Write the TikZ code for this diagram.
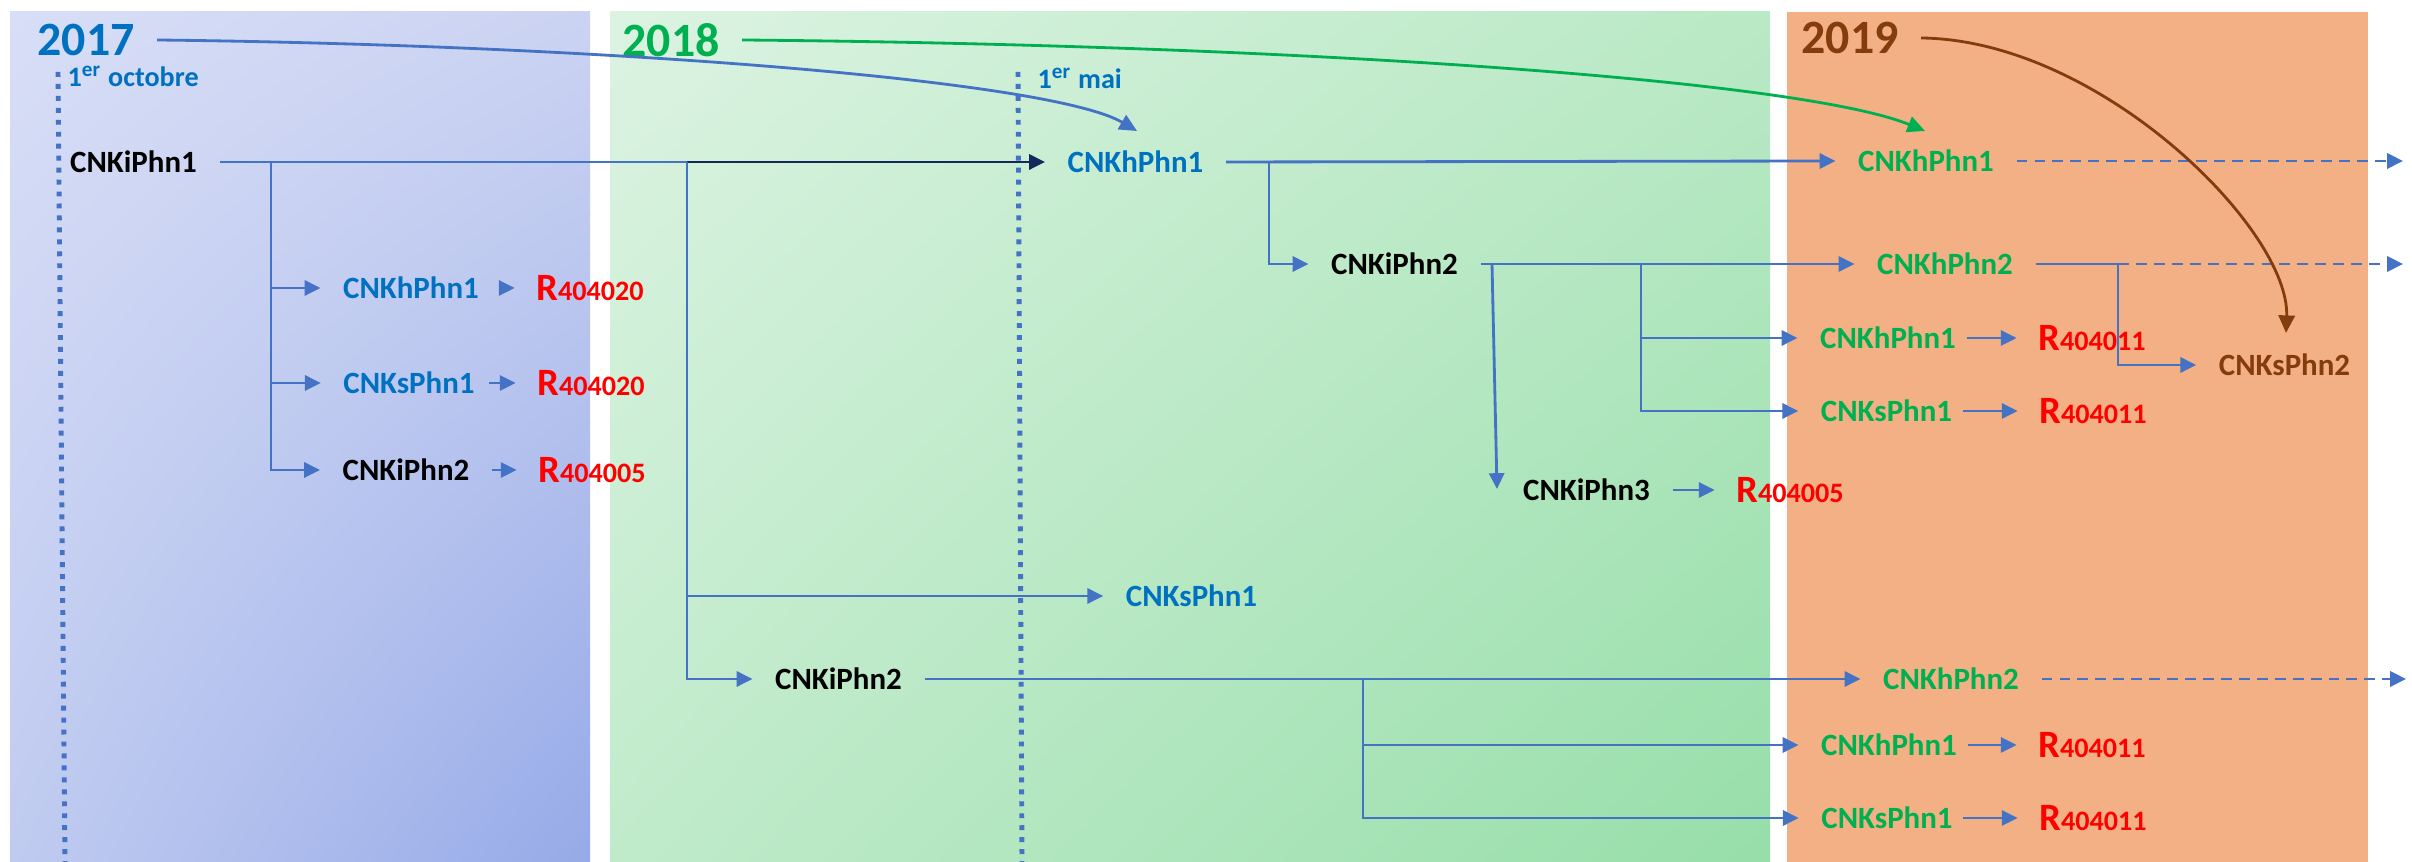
\documentclass[tikz,border=0pt]{standalone}
\usepackage{fontspec}
\setmainfont{Carlito}
\usetikzlibrary{arrows.meta,shadings}
\definecolor{tblue}{HTML}{0070C0}
\definecolor{lblue}{HTML}{4472C4}
\definecolor{navy}{HTML}{14285A}
\definecolor{tgreen}{HTML}{00B050}
\definecolor{tbrown}{HTML}{843C0C}
\definecolor{tred}{HTML}{FF0000}
\definecolor{pOrange}{HTML}{F3B084}
\definecolor{bUL}{RGB}{216,222,246}
\definecolor{bUR}{RGB}{203,211,242}
\definecolor{bLL}{RGB}{192,203,240}
\definecolor{bLR}{RGB}{150,170,232}
\definecolor{gUL}{RGB}{220,243,226}
\definecolor{gUR}{RGB}{185,233,197}
\definecolor{gLL}{RGB}{192,235,203}
\definecolor{gLR}{RGB}{151,222,169}
\newcommand{\Rcode}[1]{{\fontsize{11}{12}\selectfont R}{\fontsize{8}{10}\selectfont #1}}
\begin{document}
\begin{tikzpicture}[x=0.01cm,y=-0.01cm,
  lbl/.style={font=\fontsize{8.8}{10}\selectfont\bfseries, inner xsep=0.22cm, inner ysep=0pt},
  rlbl/.style={font=\bfseries, text=tred, inner xsep=0.21cm, inner ysep=0pt},
  year/.style={font=\fontsize{13.6}{15}\selectfont\bfseries, inner xsep=0.22cm, inner ysep=0pt},
  datelbl/.style={font=\fontsize{8}{9}\selectfont\bfseries, text=tblue, inner sep=0pt, anchor=west},
  conn/.style={draw=lblue, line width=0.8pt},
  arr/.style={conn, -{Triangle[length=4.5pt,width=4.3pt]}},
  dashln/.style={arr, dash pattern=on 3.1pt off 2pt},
  dotln/.style={draw=lblue, line width=1.4pt, dash pattern=on 1.4pt off 2pt},
  curv/.style={line width=0.8pt, -{Triangle[length=5pt,width=4.6pt]}}
]
\useasboundingbox (0,0) rectangle (2412,862);
\fill[white] (0,0) rectangle (2412,862);
% panels
\shade[upper left=bUL, upper right=bUR, lower left=bLL, lower right=bLR] (10,12) rectangle (590,862);
\shade[upper left=gUL, upper right=gUR, lower left=gLL, lower right=gLR] (610,12) rectangle (1770,862);
\fill[pOrange] (1787,12) rectangle (2368,862);

% date markers
\node[datelbl] (oct) at (67,76) {1\textsuperscript{er} octobre};
\node[datelbl] (mai) at (1037,78) {1\textsuperscript{er} mai};
\coordinate (od1) at (58,72);  \coordinate (od2) at (65,862);
\coordinate (md1) at (1018,72); \coordinate (md2) at (1022,862);
\draw[dotln] (od1) -- (od2);
\draw[dotln] (md1) -- (md2);

% years
\node[year, text=tblue] (y17) at (86,40) {2017};
\node[year, text=tgreen] (y18) at (671,40) {2018};
\node[year, text=tbrown] (y19) at (1850,38) {2019};

% 2017 column
\node[lbl] (n1) at (133.5,162) {CNKiPhn1};
\node[lbl, text=tblue] (a1) at (411,288) {CNKhPhn1};
\node[lbl, text=tblue] (a2) at (409,383) {CNKsPhn1};
\node[lbl] (a3) at (406,470) {CNKiPhn2};
\node[rlbl] (r1) at (590,288) {\Rcode{404020}};
\node[rlbl] (r2) at (591,383) {\Rcode{404020}};
\node[rlbl] (r3) at (592,470) {\Rcode{404005}};

% 2018 column
\node[lbl, text=tblue] (b1) at (1135.5,162) {CNKhPhn1};
\node[lbl, text=tblue] (b2) at (1191.5,596) {CNKsPhn1};
\node[lbl] (b3) at (838.5,679) {CNKiPhn2};
\node[lbl] (c1) at (1394.5,264) {CNKiPhn2};
\node[lbl] (c2) at (1586.5,490) {CNKiPhn3};
\node[rlbl] (rc2) at (1790,490) {\Rcode{404005}};

% 2019 column
\node[lbl, text=tgreen] (d1) at (1926,161) {CNKhPhn1};
\node[lbl, text=tgreen] (d2) at (1945,264) {CNKhPhn2};
\node[lbl, text=tbrown] (e1) at (2284.5,365) {CNKsPhn2};
\node[lbl, text=tgreen] (d3) at (1888,338) {CNKhPhn1};
\node[lbl, text=tgreen] (d4) at (1886.5,411) {CNKsPhn1};
\node[rlbl] (rd3) at (2092,338) {\Rcode{404011}};
\node[rlbl] (rd4) at (2093,411) {\Rcode{404011}};
\node[lbl, text=tgreen] (d5) at (1951,679) {CNKhPhn2};
\node[lbl, text=tgreen] (d6) at (1889,745) {CNKhPhn1};
\node[lbl, text=tgreen] (d7) at (1887,818) {CNKsPhn1};
\node[rlbl] (rd6) at (2092,745) {\Rcode{404011}};
\node[rlbl] (rd7) at (2093,818) {\Rcode{404011}};

% junctions
\coordinate (j1) at (271,162);
\coordinate (j2) at (687,162);
\coordinate (j3) at (1269,162);
\coordinate (j4) at (1492,264);
\coordinate (j5) at (1641,264);
\coordinate (j6) at (1363,679);
\coordinate (j7) at (2118,264);
\coordinate (c2in) at (1497,489);
\coordinate (x1) at (2403,161);
\coordinate (x2) at (2403,264);
\coordinate (x3) at (2406,679);
\coordinate (t17) at (1137,131);
\coordinate (t18) at (1925,131);
\coordinate (t19) at (2286,333);

% 2017 connectors
\draw[conn] (n1.east) -- (j2);
\draw[arr] (j1) |- (a3.west);
\draw[arr] (j1 |- a1.west) -- (a1.west);
\draw[arr] (j1 |- a2.west) -- (a2.west);
\draw[arr, shorten <=-0.1cm] (a1.east) -- (r1.west);
\draw[arr, shorten <=-0.08cm] (a2.east) -- (r2.west);
\draw[arr] (a3.east) -- (r3.west);
\draw[arr, draw=navy] (j2) -- (b1.west);
\draw[arr] (j2) |- (b3.west);
\draw[arr] (j2 |- b2.west) -- (b2.west);

% 2018 connectors
\draw[arr] (b1.east) -- (d1.west);
\draw[arr] (j3) |- (c1.west);
\draw[arr] (c1.east) -- (d2.west);
\draw[arr] (j4) -- (c2in);
\draw[arr] (j5) |- (d4.west);
\draw[arr] (j5 |- d3.west) -- (d3.west);
\draw[arr] (c2.east) -- (rc2.west);
\draw[arr] (b3.east) -- (d5.west);
\draw[arr] (j6) |- (d7.west);
\draw[arr] (j6 |- d6.west) -- (d6.west);

% 2019 connectors
\draw[dashln] (d1.east) -- (x1);
\draw[conn] (d2.east) -- (j7);
\draw[dashln] (j7) -- (x2);
\draw[arr] (j7) |- (e1.west);
\draw[dashln] (d5.east) -- (x3);
\draw[arr, shorten <=-0.12cm] (d3.east) -- (rd3.west);
\draw[arr, shorten <=-0.12cm] (d4.east) -- (rd4.west);
\draw[arr, shorten <=-0.12cm] (d6.east) -- (rd6.west);
\draw[arr, shorten <=-0.12cm] (d7.east) -- (rd7.west);

% year curves
\draw[curv, lblue] (y17.east) .. controls (600,45) and (1050,80) .. (t17);
\draw[curv, tgreen] (y18.east) .. controls (1300,45) and (1800,80) .. (t18);
\draw[curv, tbrown] (y19.east) .. controls (2100,40) and (2290,230) .. (t19);
\end{tikzpicture}
\end{document}
